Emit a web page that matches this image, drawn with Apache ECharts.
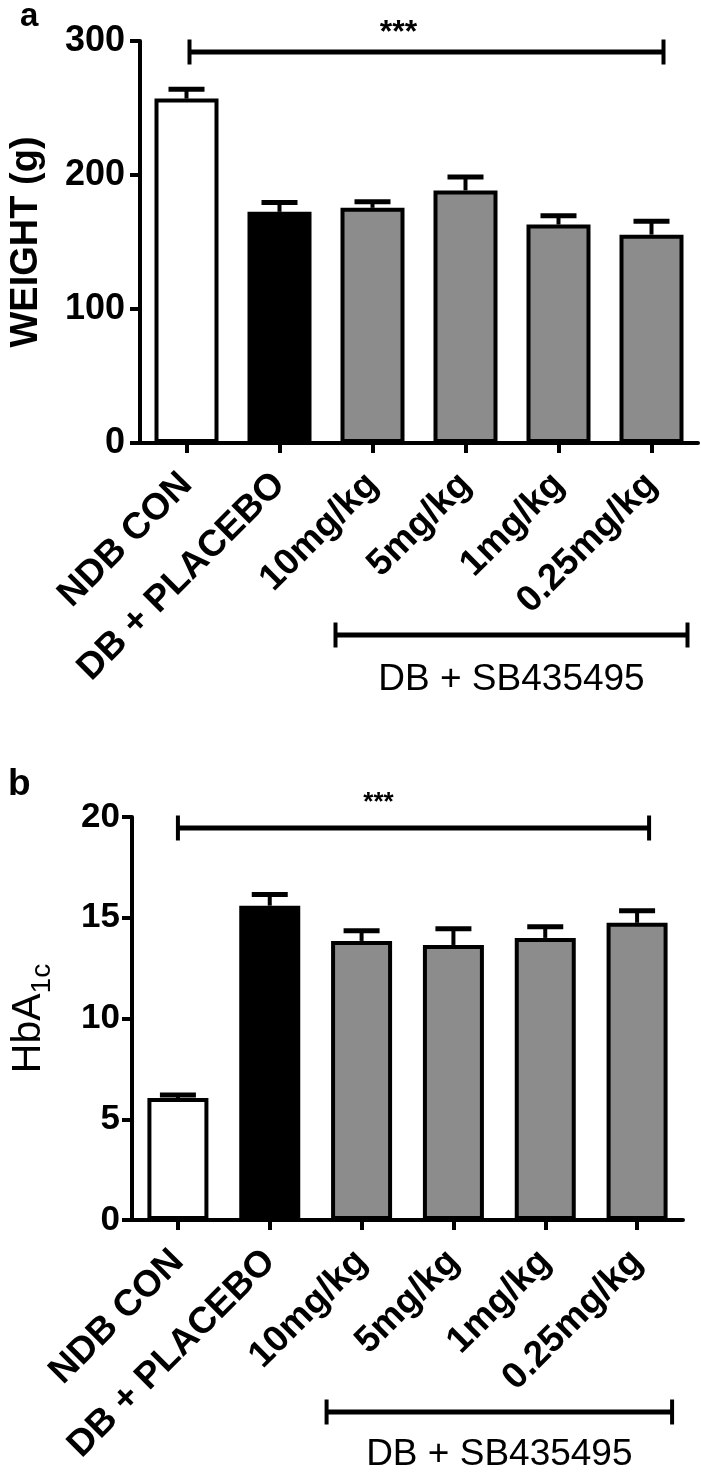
<!DOCTYPE html>
<html><head><meta charset="utf-8">
<script src="https://cdn.jsdelivr.net/npm/echarts@6/dist/echarts.min.js"></script>
<style>html,body{margin:0;padding:0;background:#fff}#c{width:701px;height:1474px}</style>
</head><body><div id="c"></div>
<script>
// ---- data ----
const categories = ['NDB CON', 'DB + PLACEBO', '10mg/kg', '5mg/kg', '1mg/kg', '0.25mg/kg'];
const weightMean = [257, 172.5, 175.5, 188.5, 163, 155.5];
const weightSem  = [7, 7, 4.5, 10, 6.5, 10];
const hbMean = [6.05, 15.6, 13.85, 13.65, 14.0, 14.75];
const hbSem  = [0.15, 0.55, 0.5, 0.8, 0.55, 0.6];
const weightAxis = { min: 0, max: 300, interval: 100 };
const hbAxis = { min: 0, max: 20, interval: 5 };
const barColors = ['#ffffff', '#000000', '#8c8c8c', '#8c8c8c', '#8c8c8c', '#8c8c8c'];
const groupLabel = 'DB + SB435495';
const sigLabel = '***';
const panelLabels = ['a', 'b'];

const FF = '"Liberation Sans", Arial, sans-serif';

function barData(vals) {
  return vals.map((v, i) => ({ value: v, itemStyle: { color: barColors[i] } }));
}
function errData(m, s) { return m.map((v, i) => [i, v, s[i]]); }

function errRender(capHalf) {
  return function (params, api) {
    const i = api.value(0), m = api.value(1), s = api.value(2);
    const p0 = api.coord([i, m]);
    const p1 = api.coord([i, m + s]);
    return { type: 'group', children: [
      { type: 'line', shape: { x1: p0[0], y1: p0[1], x2: p1[0], y2: p1[1] }, style: { stroke: '#000', lineWidth: 4 } },
      { type: 'line', shape: { x1: p1[0] - capHalf, y1: p1[1], x2: p1[0] + capHalf, y2: p1[1] }, style: { stroke: '#000', lineWidth: 5 } }
    ]};
  };
}

function annRender(cfg) {
  return function (params, api) {
    const c0 = api.coord([0, cfg.ymax]);
    const c5 = api.coord([5, 0]);
    const c2 = api.coord([2, 0]);
    const axisY = c5[1];
    const sy = c0[1] + cfg.sigDy;
    const xl = c0[0] + cfg.sigL, xr = c5[0] + cfg.sigR;
    const gy = axisY + cfg.grpDy;
    const gl = c2[0] + cfg.grpL, gr = c5[0] + cfg.grpR;
    const ln = (x1, y1, x2, y2, w) => ({ type: 'line', shape: { x1, y1, x2, y2 }, style: { stroke: '#000', lineWidth: w } });
    return { type: 'group', children: [
      ln(xl, sy, xr, sy, 5),
      ln(xl, sy - 12.5, xl, sy + 12.5, 4),
      ln(xr, sy - 12.5, xr, sy + 12.5, 4),
      { type: 'text', x: (xl + xr) / 2 + cfg.starDx, y: sy + cfg.starDy,
        style: { text: sigLabel, fontSize: cfg.starSize, fontWeight: 'bold', fontFamily: FF, fill: '#000', align: 'center', verticalAlign: 'middle' } },
      ln(gl, gy, gr, gy, 5),
      ln(gl, gy - 12.5, gl, gy + 12.5, 4),
      ln(gr, gy - 12.5, gr, gy + 12.5, 4),
      { type: 'text', x: (gl + gr) / 2, y: gy + cfg.txtDy,
        style: { text: groupLabel, fontSize: 37, fontFamily: FF, fill: '#000', align: 'center', verticalAlign: 'middle' } }
    ]};
  };
}

const axisLineStyle = { show: true, lineStyle: { color: '#000', width: 4 } };
const tickStyle = { show: true, length: 10, lineStyle: { color: '#000', width: 4 } };

function xAxisCfg(gi) {
  return {
    type: 'category', gridIndex: gi, data: categories, boundaryGap: true,
    axisLine: axisLineStyle,
    axisTick: Object.assign({ alignWithLabel: true, inside: false }, tickStyle),
    axisLabel: { rotate: 45, margin: 36, interval: 0, color: '#000', fontSize: 37, fontWeight: 'bold', fontFamily: FF },
    splitLine: { show: false }
  };
}

const chart = echarts.init(document.getElementById('c'), null, { renderer: 'canvas' });
chart.setOption({
  animation: false,
  backgroundColor: '#fff',
  grid: [
    { left: 126, top: 41, width: 572, height: 402, containLabel: false },
    { left: 113, top: 817, width: 570, height: 403, containLabel: false }
  ],
  xAxis: [xAxisCfg(0), xAxisCfg(1)],
  yAxis: [
    {
      type: 'value', gridIndex: 0, min: weightAxis.min, max: weightAxis.max, interval: weightAxis.interval,
      axisLine: axisLineStyle, axisTick: tickStyle, splitLine: { show: false },
      axisLabel: { margin: 15, color: '#000', fontSize: 36, fontWeight: 'bold', fontFamily: FF },
      name: 'WEIGHT (g)', nameLocation: 'middle', nameGap: 94,
      nameTextStyle: { color: '#000', fontSize: 38, fontWeight: 'bold', fontFamily: FF }
    },
    {
      type: 'value', gridIndex: 1, min: hbAxis.min, max: hbAxis.max, interval: hbAxis.interval,
      axisLine: axisLineStyle, axisTick: tickStyle, splitLine: { show: false },
      axisLabel: { margin: 12, color: '#000', fontSize: 35, fontWeight: 'bold', fontFamily: FF },
      name: '{m|HbA}{s|1c}', nameLocation: 'middle', nameGap: 76,
      nameTextStyle: { color: '#000', fontFamily: FF,
        rich: {
          m: { fontSize: 41, fontFamily: FF, color: '#000', lineHeight: 48, verticalAlign: 'top' },
          s: { fontSize: 28, fontFamily: FF, color: '#000', lineHeight: 28, verticalAlign: 'bottom' }
        } }
    }
  ],
  graphic: [
    { type: 'text', left: 20, top: 0, style: { text: panelLabels[0], fontSize: 33, fontWeight: 'bold', fontFamily: FF, fill: '#000' } },
    { type: 'text', left: 8, top: 766, style: { text: panelLabels[1], fontSize: 37, fontWeight: 'bold', fontFamily: FF, fill: '#000' } }
  ],
  series: [
    { type: 'bar', xAxisIndex: 0, yAxisIndex: 0, barWidth: 64, data: barData(weightMean),
      itemStyle: { borderColor: '#000', borderWidth: 4 }, z: 2 },
    { type: 'custom', xAxisIndex: 0, yAxisIndex: 0, data: errData(weightMean, weightSem),
      renderItem: errRender(18), encode: { x: 0, y: 1 }, z: 3, clip: false },
    { type: 'custom', xAxisIndex: 0, yAxisIndex: 0, data: [[0, 0]], encode: { x: 0, y: 1 }, z: 4, clip: false,
      renderItem: annRender({ ymax: weightAxis.max, sigDy: 11, sigL: 3, sigR: 12, starDx: -28, starDy: -19, starSize: 32,
                              grpDy: 192, grpL: -37, grpR: 36, txtDy: 45 }) },
    { type: 'bar', xAxisIndex: 1, yAxisIndex: 1, barWidth: 61, data: barData(hbMean),
      itemStyle: { borderColor: '#000', borderWidth: 4 }, z: 2 },
    { type: 'custom', xAxisIndex: 1, yAxisIndex: 1, data: errData(hbMean, hbSem),
      renderItem: errRender(18), encode: { x: 0, y: 1 }, z: 3, clip: false },
    { type: 'custom', xAxisIndex: 1, yAxisIndex: 1, data: [[0, 0]], encode: { x: 0, y: 1 }, z: 4, clip: false,
      renderItem: annRender({ ymax: hbAxis.max, sigDy: 11, sigL: 0, sigR: 12, starDx: -35, starDy: -25, starSize: 26,
                              grpDy: 192, grpL: -35, grpR: 35, txtDy: 43 }) }
  ]
});
</script>
</body></html>
